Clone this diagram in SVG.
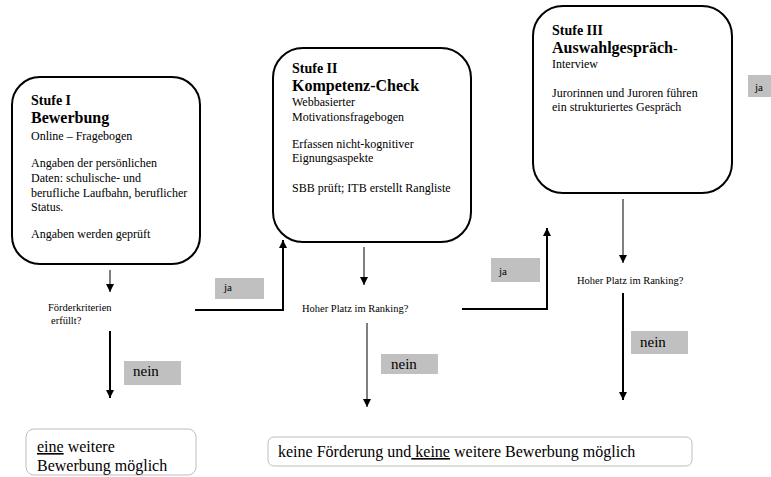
<svg xmlns="http://www.w3.org/2000/svg" width="771" height="477" viewBox="0 0 771 477">
<defs>
<style>
text{font-family:"Liberation Serif","Times New Roman",serif;fill:#000}
.stage{fill:#fff;stroke:#000;stroke-width:2}
.h1{font-size:14px;font-weight:bold}
.h2{font-size:16px;font-weight:bold}
.b{font-size:12px}
.q{font-size:10.5px}
.lbl{fill:#c0c0c0}
.lt{font-size:11px}
.ln{font-size:15px}
.res{fill:#fff;stroke:#bdbdbd;stroke-width:1}
.rt{font-size:16px}
.thin{stroke:#000;stroke-width:1;fill:none}
.thick{stroke:#000;stroke-width:2;fill:none}
</style>
<marker id="ah" markerUnits="userSpaceOnUse" markerWidth="8" markerHeight="8" viewBox="0 0 8 8" refX="8" refY="4" orient="auto">
<path d="M0,0 L8,4 L0,8 Z" fill="#000"/>
</marker>
</defs>

<g id="stage1">
<rect class="stage" x="12" y="77" width="188" height="187" rx="28"/>
<text class="h1" x="31" y="105">Stufe I</text>
<text class="h2" x="31" y="123">Bewerbung</text>
<text class="b" x="31" y="140">Online – Fragebogen</text>
<text class="b" x="31" y="167">Angaben der persönlichen</text>
<text class="b" x="31" y="182">Daten: schulische- und</text>
<text class="b" x="31" y="197">berufliche Laufbahn, beruflicher</text>
<text class="b" x="31" y="211">Status.</text>
<text class="b" x="31" y="238">Angaben werden geprüft</text>
</g>

<g id="stage2">
<rect class="stage" x="273" y="48" width="198" height="194" rx="30"/>
<text class="h1" x="292" y="73">Stufe II</text>
<text class="h2" x="292" y="91">Kompetenz-Check</text>
<text class="b" x="292" y="106">Webbasierter</text>
<text class="b" x="292" y="121">Motivationsfragebogen</text>
<text class="b" x="292" y="148">Erfassen nicht-kognitiver</text>
<text class="b" x="292" y="162">Eignungsaspekte</text>
<text class="b" x="292" y="192">SBB prüft; ITB erstellt Rangliste</text>
</g>

<g id="stage3">
<rect class="stage" x="533" y="6" width="199" height="187" rx="30"/>
<text class="h1" x="552" y="35">Stufe III</text>
<text x="552" y="53"><tspan class="h2">Auswahlgespräch</tspan><tspan font-size="14px">-</tspan></text>
<text class="b" x="552" y="68">Interview</text>
<text class="b" x="552" y="97">Jurorinnen und Juroren führen</text>
<text class="b" x="552" y="111">ein strukturiertes Gespräch</text>
</g>

<g id="q1">
<text class="q" x="48" y="311">Förderkriterien</text>
<text class="q" x="51" y="324">erfüllt?</text>
</g>
<g id="q2">
<text class="q" x="302" y="312">Hoher Platz im Ranking?</text>
</g>
<g id="q3">
<text class="q" x="577" y="284">Hoher Platz im Ranking?</text>
</g>

<g id="result1">
<rect class="res" x="26" y="429" width="170" height="46" rx="8"/>
<text class="rt" x="37" y="452"><tspan text-decoration="underline">eine</tspan> weitere</text>
<text class="rt" x="37" y="471">Bewerbung möglich</text>
</g>

<g id="result2">
<rect class="res" x="268" y="437" width="424" height="29" rx="6"/>
<text class="rt" x="278" y="457">keine Förderung und<tspan text-decoration="underline"> keine</tspan> weitere Bewerbung möglich</text>
</g>

<g id="connectors">
<line class="thin" x1="110" y1="270" x2="110" y2="292" marker-end="url(#ah)"/>
<line class="thick" x1="110" y1="331" x2="110" y2="398" marker-end="url(#ah)"/>
<polyline class="thick" points="195,310 283,310 283,240" marker-end="url(#ah)"/>
<line class="thin" x1="364" y1="247" x2="364" y2="285" marker-end="url(#ah)"/>
<line class="thin" x1="367" y1="323" x2="367" y2="407" marker-end="url(#ah)"/>
<polyline class="thick" points="462,309 547,309 547,228" marker-end="url(#ah)"/>
<line class="thin" x1="623" y1="199" x2="623" y2="263" marker-end="url(#ah)"/>
<line class="thick" x1="623" y1="293" x2="623" y2="400" marker-end="url(#ah)"/>
</g>

<g id="labels">
<rect class="lbl" x="215" y="278" width="49" height="21"/>
<text class="lt" x="224" y="291">ja</text>
<rect class="lbl" x="124" y="361" width="57" height="24"/>
<text class="ln" x="133" y="376">nein</text>
<rect class="lbl" x="491" y="258" width="49" height="24"/>
<text class="lt" x="499" y="275">ja</text>
<rect class="lbl" x="381" y="354" width="57" height="20"/>
<text class="ln" x="391" y="369">nein</text>
<rect class="lbl" x="631" y="331" width="57" height="23"/>
<text class="ln" x="640" y="347">nein</text>
<rect class="lbl" x="748" y="75" width="23" height="22"/>
<text class="lt" x="755" y="91">ja</text>
</g>
</svg>
